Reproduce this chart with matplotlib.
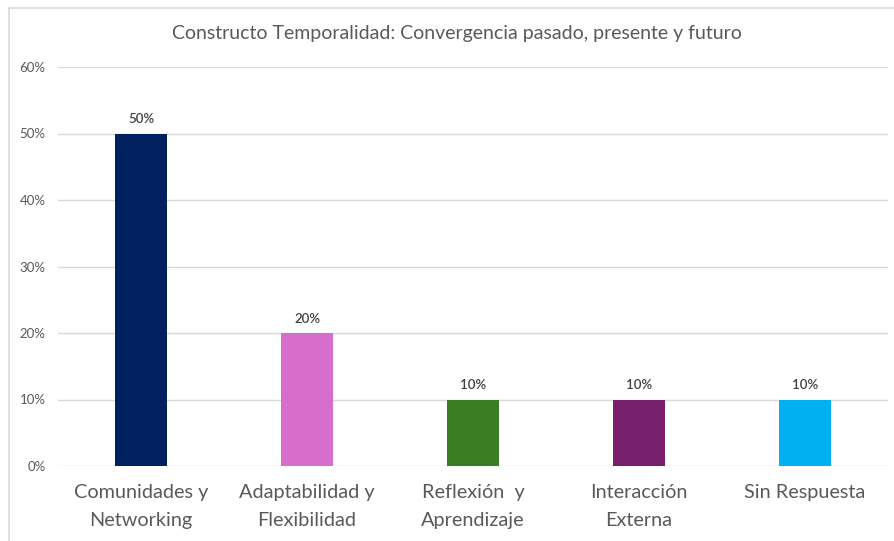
import matplotlib.pyplot as plt
from matplotlib.lines import Line2D
from matplotlib.ticker import PercentFormatter

categories = ["Comunidades y\nNetworking", "Adaptabilidad y\nFlexibilidad",
              "Reflexión  y\nAprendizaje", "Interacción\nExterna", "Sin Respuesta"]
values = [0.50, 0.20, 0.10, 0.10, 0.10]
labels = ["50%", "20%", "10%", "10%", "10%"]
colors = ["#002060", "#D86ECC", "#3B7D23", "#78206E", "#00B0F0"]

plt.rcParams['font.family'] = ['Lato', 'DejaVu Sans']

fig = plt.figure(figsize=(8.94, 5.41), dpi=100)
ax = fig.add_axes([58 / 894, 1 - 466 / 541, 830 / 894, 399 / 541])

x = list(range(len(categories)))
bars = ax.bar(x, values, width=0.313, color=colors, zorder=3)
ax.bar_label(bars, labels=labels, padding=6, fontsize=9.5, fontweight='semibold', color='#404040')

ax.set_xlim(-0.5, len(categories) - 0.5)
ax.set_ylim(0, 0.6)
ax.set_yticks([0, 0.1, 0.2, 0.3, 0.4, 0.5, 0.6])
ax.yaxis.set_major_formatter(PercentFormatter(1.0, decimals=0))
ax.set_xticks(x)
ax.set_xticklabels(categories, fontsize=14.3, color='#595959', linespacing=1.78)
ax.tick_params(axis='y', length=0, pad=9, labelsize=9.5, labelcolor='#595959')
ax.tick_params(axis='x', length=0, pad=13)
ax.grid(axis='y', color='#d9d9d9', linewidth=1, zorder=0)
for s in ax.spines.values():
    s.set_visible(False)

fig.text(457 / 894, 1 - 33 / 541, "Constructo Temporalidad: Convergencia pasado, presente y futuro",
         ha='center', va='center', fontsize=14, color='#595959')

# chart border (only top and left edges fall inside the picture)
fig.add_artist(Line2D([9 / 894, 1], [1 - 8 / 541, 1 - 8 / 541], color='#d9d9d9', linewidth=1.2))
fig.add_artist(Line2D([9 / 894, 9 / 894], [0, 1 - 8 / 541], color='#d9d9d9', linewidth=1.2))

fig.savefig("out.png", dpi=100)
